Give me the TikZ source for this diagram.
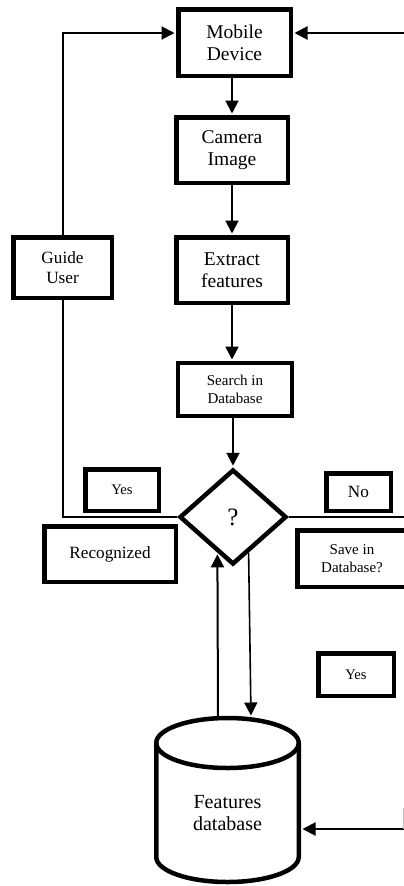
\documentclass[tikz,border=0pt]{standalone}
\usepackage{fontspec}
\setmainfont{Liberation Serif}
\usetikzlibrary{shapes.geometric,arrows.meta,calc}
\begin{document}
\begin{tikzpicture}[x=1pt,y=-1pt,
  box/.style={draw,line width=4.5pt,rectangle,align=center,inner sep=0pt},
  conn/.style={line width=2pt},
  arr/.style={conn,-{Triangle[length=13pt,width=13pt]},shorten >=1.5pt},
  fA/.style={font=\fontsize{19.5}{22}\selectfont},
  fB/.style={font=\fontsize{17.2}{20}\selectfont},
  fC/.style={font=\fontsize{15}{18}\selectfont}]
\clip (0,0) rectangle (404,886);
\fill[white] (0,0) rectangle (404,886);
% boxes
\node[box,fA,minimum width=112.5pt,minimum height=66.5pt] (md) at (234.5,42.5) {Mobile\\Device};
\node[box,fA,minimum width=111.5pt,minimum height=65.5pt] (cam) at (232,150) {Camera\\Image};
\node[box,fA,minimum width=111.5pt,minimum height=65.5pt] (ext) at (232,270) {Extract\\features};
\node[box,fB,minimum width=98.5pt,minimum height=60.5pt] (gu) at (62.5,267.5) {Guide\\User};
\node[box,fC,line width=4pt,minimum width=114pt,minimum height=53pt] (sdb) at (235,389.5) {Search in\\Database};
\node[draw,diamond,line width=4.5pt,minimum width=107pt,minimum height=95pt,inner sep=0pt,
      font=\fontsize{25}{25}\selectfont] (dia) at (233,517) {?};
\node[box,font=\fontsize{14.6}{17}\selectfont,minimum width=73.5pt,minimum height=41.5pt] (yes1) at (122,490) {Yes};
\node[box,fB,minimum width=64.5pt,minimum height=37.5pt] (no) at (358.5,492) {No};
\node[box,fB,minimum width=131.5pt,minimum height=55.5pt] (rec) at (110,554) {Recognized};
\node[box,fC,minimum width=109.5pt,minimum height=56.5pt] (save) at (352,558.5) {Save in\\Database?};
\node[box,font=\fontsize{14.6}{17}\selectfont,minimum width=75.5pt,minimum height=42.5pt] (yes2) at (356,674.5) {Yes};
% cylinder
\draw[line width=4.5pt] (156.25,743) -- (156.25,857)
  arc[start angle=180,end angle=0,x radius=71.25,y radius=25] -- (298.75,743);
\draw[line width=4.5pt] (227.5,743) ellipse[x radius=71.25,y radius=25];
\node[fA,align=center,font=\fontsize{20}{22}\selectfont] (db) at (227.5,813) {Features\\database};
% coordinates
\coordinate (rin) at (406,33);
\coordinate (rdia) at (406,517);
\coordinate (dbR) at (301,829);
\coordinate (rbot) at (406,829);
\coordinate (rtop) at (403.5,808);
\coordinate (rmid) at (403.5,829);
\coordinate (dbUp) at (218,717);
\coordinate (dbDown) at (251,717);
% connectors
\draw[arr] (cam.north |- md.south) -- (cam.north);
\draw[arr] (cam.south) -- (ext.north);
\draw[arr] (ext.south) -- (ext.south |- sdb.north);
\draw[arr] (sdb.south -| dia.north) -- (dia.north);
\draw[arr] (gu.north) |- ([yshift=9.5pt]md.west);
\draw[arr] (rin) -- ([yshift=9.5pt]md.east);
\draw[conn] (dia.west) -| (gu.south);
\draw[conn] (dia.east) -- (rdia);
\draw[arr] (dbUp) -- ($(dia.south west)!0.44!(dia.south)$);
\draw[arr,line width=1.6pt] ($(dia.south)!0.56!(dia.south east)$) -- (dbDown);
\draw[arr] (rbot) -- (dbR);
\draw[gray!50,line width=1pt] (rtop) -- (rmid);
\end{tikzpicture}
\end{document}
